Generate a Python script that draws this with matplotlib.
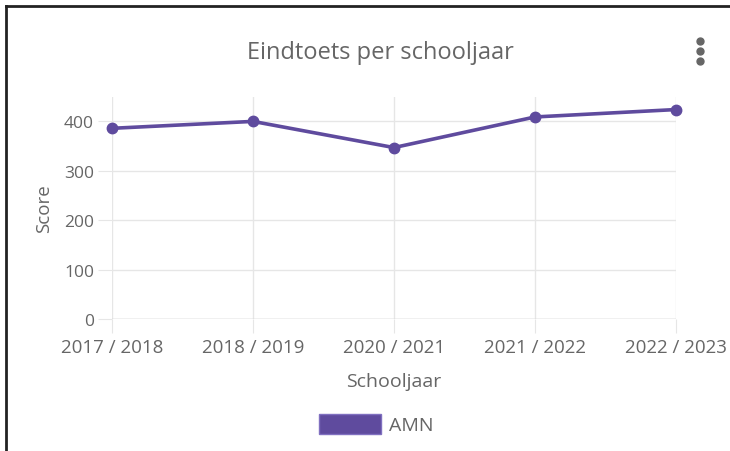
import matplotlib
matplotlib.use('Agg')
import matplotlib.pyplot as plt
from matplotlib.patches import Patch
from matplotlib.lines import Line2D

# data
years = ['2017 / 2018', '2018 / 2019', '2020 / 2021', '2021 / 2022', '2022 / 2023']
amn = [386, 400, 347, 409, 424]
yticks = [0, 100, 200, 300, 400]

purple = '#5f4b9e'
grey = '#666666'
gridc = '#e6e6e6'

plt.rcParams['font.family'] = ['Open Sans', 'DejaVu Sans']

fig = plt.figure(figsize=(7.3, 4.52), dpi=100)
ax = fig.add_axes([112 / 730, 1 - 320 / 452, 564 / 730, 222.3 / 452])

x = list(range(len(years)))
ax.plot(x, amn, color=purple, linewidth=2.6, marker='o', markersize=7.5,
        solid_capstyle='round', zorder=3, clip_on=False)

ax.set_xlim(0, len(years) - 1)
ax.set_ylim(0, 450)
ax.set_xticks(x)
ax.set_xticklabels(years)
ax.set_yticks(yticks)

for s in ax.spines.values():
    s.set_visible(False)
ax.grid(True, color=gridc, linewidth=1)
ax.axhline(0, color='#cccccc', linewidth=1, zorder=2)
ax.tick_params(axis='both', length=10, color=gridc, labelcolor=grey)
ax.tick_params(axis='y', pad=3, labelsize=12.5)
ax.tick_params(axis='x', pad=3.5, labelsize=13.5)

ax.set_xlabel('Schooljaar', color=grey, fontsize=14, labelpad=12)
ax.set_ylabel('Score', color=grey, fontsize=13.5, labelpad=8)

fig.text(380 / 730, 1 - 53 / 452, 'Eindtoets per schooljaar', color=grey,
         fontsize=17, ha='center', va='center')

# menu dots
for yy in (42, 52, 62):
    fig.add_artist(Line2D([700 / 730], [1 - yy / 452], marker='o', markersize=5,
                          color='#666666', linestyle='none', transform=fig.transFigure))

leg = fig.legend(handles=[Patch(facecolor=purple, edgecolor='#8070c0', label='AMN')],
                 loc='center', bbox_to_anchor=(376 / 730, 1 - 425 / 452),
                 frameon=False, fontsize=14, handlelength=3.2, handleheight=1.25,
                 handletextpad=0.4)
for t in leg.get_texts():
    t.set_color(grey)

# card border
fig.add_artist(Line2D([6 / 730, 6 / 730], [0, 1 - 7 / 452], color='#222222',
                      linewidth=2, transform=fig.transFigure))
fig.add_artist(Line2D([6 / 730, 1], [1 - 7 / 452, 1 - 7 / 452], color='#222222',
                      linewidth=2, transform=fig.transFigure))

fig.savefig('out.png', dpi=100)
